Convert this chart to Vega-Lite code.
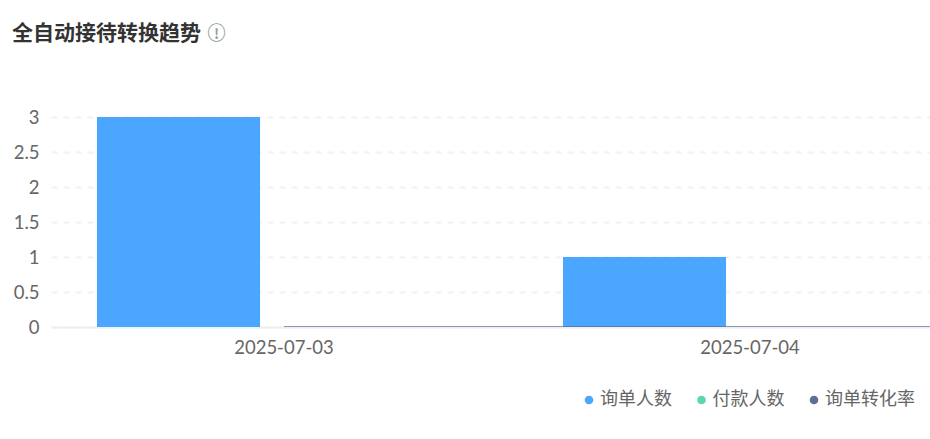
{"$schema":"https://vega.github.io/schema/vega-lite/v6.json","width":879,"height":210,"autosize":{"type":"none"},"padding":{"left":51,"top":117,"right":0,"bottom":112},"background":"white","config":{"font":"Noto Sans CJK SC","view":{"stroke":null}},"title":{"text":"全自动接待转换趋势","anchor":"start","frame":"group","dx":-39,"offset":-20,"fontSize":21,"fontWeight":"bold","color":"#333333","font":"Noto Sans CJK SC"},"data":{"values":[{"date":"2025-07-03","series":"询单人数","value":3},{"date":"2025-07-03","series":"付款人数","value":0},{"date":"2025-07-03","series":"询单转化率","value":0},{"date":"2025-07-04","series":"询单人数","value":1},{"date":"2025-07-04","series":"付款人数","value":0},{"date":"2025-07-04","series":"询单转化率","value":0}]},"encoding":{"x":{"field":"date","type":"nominal","scale":{"range":[0,932],"paddingInner":0,"paddingOuter":0},"axis":{"title":"!","titleX":165,"titleY":-300,"titleColor":"#8fa0a0","titleFontSize":14,"titleFontWeight":"bold","labelAngle":0,"labelFontSize":18.5,"labelFont":"Lato","labelColor":"#666666","labelPadding":11,"ticks":false,"domainColor":"#eeeeee","domainWidth":2}},"y":{"field":"value","type":"quantitative","scale":{"domain":[0,3],"nice":false},"axis":{"title":"○","titleAngle":0,"titleX":165,"titleY":-74,"titleColor":"#8fa0a0","titleFontSize":19,"titleFontWeight":"bold","values":[0,0.5,1,1.5,2,2.5,3],"format":"~g","labelFont":"Lato","labelFontSize":18.5,"labelColor":"#666666","labelPadding":12,"ticks":false,"domain":false,"grid":true,"gridColor":"#f2f2f2","gridWidth":2,"gridDash":[6,6]}},"color":{"field":"series","type":"nominal","scale":{"domain":["询单人数","付款人数","询单转化率"],"range":["#4BA6FF","#5AD8A6","#5D7092"]},"legend":{"title":null,"orient":"none","legendX":529,"legendY":274,"direction":"horizontal","columns":3,"symbolType":"circle","symbolSize":75,"symbolOpacity":1,"symbolStrokeWidth":0,"labelFontSize":18,"labelColor":"#666666","labelOffset":2,"columnPadding":20.5}}},"layer":[{"transform":[{"filter":"datum.series !== '询单转化率'"}],"mark":{"type":"bar","clip":true},"encoding":{"xOffset":{"field":"series","type":"nominal","sort":["询单人数","付款人数"],"scale":{"domain":["询单人数","付款人数"],"range":[46,396],"paddingInner":0.128,"paddingOuter":0}}}},{"transform":[{"filter":"datum.series === '询单转化率'"}],"mark":{"type":"bar","clip":true,"width":{"band":1},"xOffset":233,"stroke":"#5D7092","strokeWidth":2,"strokeOpacity":0.7}}]}
